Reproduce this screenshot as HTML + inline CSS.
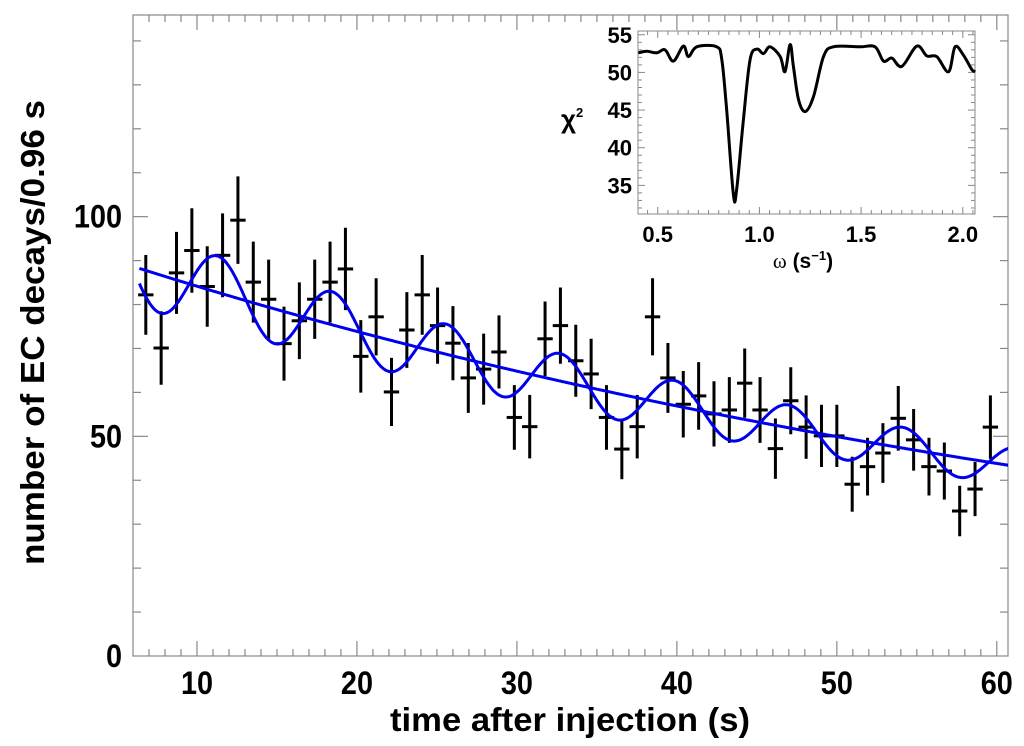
<!DOCTYPE html>
<html><head><meta charset="utf-8"><style>
html,body{margin:0;padding:0;background:#fff}
svg{display:block}
text{font-family:"Liberation Sans",Arial,sans-serif;font-weight:bold}
</style></head><body>
<svg id="chart" width="1024" height="746" viewBox="0 0 1024 746" xmlns="http://www.w3.org/2000/svg">
<g id="main"></g>
<g id="inset"></g>
</svg>
<script>
// ===== main chart data =====
const t0 = 6.8, binWidth = 0.96;
const counts = [82.2,70.1,87.2,92.3,84.1,91.2,99.2,85.1,81.2,71.1,76.3,81.2,85.1,88.1,68.2,77.2,60.1,74.2,82.2,
75.2,71.2,63.3,65.3,69.2,54.3,52.2,72.2,75.2,67.2,64.2,54.3,47.1,52.2,77.2,63.3,57.3,59.2,55.1,
56.0,62.1,56.0,47.2,58.1,52.1,50.1,50.1,39.1,43.1,46.2,54.1,49.2,43.1,42.1,33.0,38.0,52.1];
const fitN0 = [95.9], fitLambda = [0.01305], fitAmp = [0.1], fitOmega = [0.88], fitPeak = [11.3];
const xTicks = [10,20,30,40,50,60];
const yTicks = [0,50,100];
// ===== inset data =====
const omegaVals = [0.405,0.446,0.495,0.536,0.577,0.626,0.651,0.692,0.790,0.815,0.839,0.872,0.888,0.921,0.954,0.987,1.020,1.052,1.102,1.126,1.151,1.167,1.192,1.225,1.266,1.315,1.364,1.495,1.569,1.610,1.651,1.700,1.774,1.823,1.872,1.930,1.962,2.003,2.044,2.061];
const chi2Vals = [52.6,52.8,52.6,53.0,51.5,53.5,52.1,53.4,53.4,51.7,45.0,33.8,34.4,43.7,51.7,53.1,52.5,53.4,52.1,50.1,53.7,50.8,46.4,44.8,46.8,52.1,53.4,53.4,53.4,51.5,51.9,50.8,53.5,52.2,52.1,50.1,53.4,52.3,50.4,50.1];
const insetXTicks = ["0.5","1.0","1.5","2.0"];
const insetYTicks = ["35","40","45","50","55"];

const NS="http://www.w3.org/2000/svg";
function mk(parent, tag, attrs){const e=document.createElementNS(NS,tag);for(const k in attrs)e.setAttribute(k,attrs[k]);parent.appendChild(e);return e;}

// main axes
const PX0=133,PX1=1008,PY0=15,PY1=656;
const XMIN=6.0,XMAX=60.7,YMIN=0,YMAX=145.9;
const sx=v=>PX0+(v-XMIN)/(XMAX-XMIN)*(PX1-PX0);
const sy=v=>PY1-(v-YMIN)/(YMAX-YMIN)*(PY1-PY0);
const main=document.getElementById('main');
const frame=mk(main,'rect',{x:PX0,y:PY0,width:PX1-PX0,height:PY1-PY0,fill:'none',stroke:'#888','stroke-width':1.2});


for(let v=7;v<=60;v++){
  const major=v%10===0, L=major?15:7;
  mk(main,'line',{x1:sx(v),x2:sx(v),y1:PY1,y2:PY1-L,stroke:'#888','stroke-width':1.2});
  mk(main,'line',{x1:sx(v),x2:sx(v),y1:PY0,y2:PY0+L,stroke:'#888','stroke-width':1.2});
}
for(let v=10;v<=140;v+=10){
  const major=v%50===0, L=major?15:8;
  mk(main,'line',{x1:PX0,x2:PX0+L,y1:sy(v),y2:sy(v),stroke:'#888','stroke-width':1.2});
  mk(main,'line',{x1:PX1,x2:PX1-L,y1:sy(v),y2:sy(v),stroke:'#888','stroke-width':1.2});
}
xTicks.forEach(v=>{
  const t=mk(main,'text',{x:sx(v),y:694,'text-anchor':'middle','font-size':32,transform:`translate(${sx(v)*0.1},0) scale(0.9,1)`});
  t.setAttribute('x',sx(v));
  t.textContent=v;
  
  
});
yTicks.forEach(v=>{
  const t=mk(main,'text',{x:122,y:sy(v)+11,'text-anchor':'end','font-size':32,transform:'translate(12.2,0) scale(0.9,1)'});
  t.textContent=v;
  
  
});
const xt=mk(main,'text',{x:390,y:731,'font-size':33,textLength:360,lengthAdjust:'spacingAndGlyphs'});
xt.textContent='time after injection (s)';


const yt=mk(main,'text',{x:-565,y:44,'font-size':33,textLength:465,lengthAdjust:'spacingAndGlyphs',transform:'rotate(-90)'});
yt.textContent='number of EC decays/0.96 s';


counts.forEach((c,i)=>{
  const t=t0+i*binWidth, e=Math.sqrt(c);
  const g=mk(main,'g',{});
  
  
  mk(g,'line',{x1:sx(t),x2:sx(t),y1:sy(c+e),y2:sy(c-e),stroke:'#000','stroke-width':3});
  mk(g,'line',{x1:sx(t-binWidth/2),x2:sx(t+binWidth/2),y1:sy(c),y2:sy(c),stroke:'#000','stroke-width':3});
});
const clip=mk(main,'clipPath',{id:'pc'});
mk(clip,'rect',{x:PX0,y:PY0,width:PX1-PX0,height:PY1-PY0});
let dl='',ds='';
for(let t=6.4;t<=61;t+=0.05){
  const L=fitN0[0]*Math.exp(-fitLambda[0]*t);
  const S=L*(1+fitAmp[0]*Math.cos(fitOmega[0]*(t-fitPeak[0])));
  dl+=(dl?'L':'M')+sx(t).toFixed(1)+','+sy(L).toFixed(1);
  ds+=(ds?'L':'M')+sx(t).toFixed(1)+','+sy(S).toFixed(1);
}
const fl=mk(main,'path',{d:dl,fill:'none',stroke:'#0000ee','stroke-width':3,'clip-path':'url(#pc)'});


const fs=mk(main,'path',{d:ds,fill:'none',stroke:'#0000ee','stroke-width':3,'clip-path':'url(#pc)'});



// inset
const IX0=638,IX1=975,IY0=31,IY1=214;
const IXMIN=0.403,IXMAX=2.06,IYMIN=31.2,IYMAX=55.5;
const ix=v=>IX0+(v-IXMIN)/(IXMAX-IXMIN)*(IX1-IX0);
const iy=v=>IY1-(v-IYMIN)/(IYMAX-IYMIN)*(IY1-IY0);
const ins=document.getElementById('inset');
mk(ins,'rect',{x:IX0,y:IY0,width:IX1-IX0,height:IY1-IY0,fill:'#fff',stroke:'#888','stroke-width':1});
for(let v=0.45;v<2.06;v+=0.05){
  const major=Math.abs(v*2-Math.round(v*2))<1e-6, L=major?7:4;
  mk(ins,'line',{x1:ix(v),x2:ix(v),y1:IY1,y2:IY1-L,stroke:'#888'});
  mk(ins,'line',{x1:ix(v),x2:ix(v),y1:IY0,y2:IY0+L,stroke:'#888'});
}
for(let v=32;v<=55;v+=1){
  const L=v%5===0?7:4;
  mk(ins,'line',{x1:IX0,x2:IX0+L,y1:iy(v),y2:iy(v),stroke:'#888'});
  mk(ins,'line',{x1:IX1,x2:IX1-L,y1:iy(v),y2:iy(v),stroke:'#888'});
}
insetXTicks.forEach(s=>{
  const t=mk(ins,'text',{x:ix(parseFloat(s)),y:242,'text-anchor':'middle','font-size':22});
  t.textContent=s;
  
  
});
insetYTicks.forEach(s=>{
  const t=mk(ins,'text',{x:632,y:iy(parseFloat(s))+8,'text-anchor':'end','font-size':22});
  t.textContent=s;
  
  
});
const ixt=mk(ins,'text',{x:803,y:268,'text-anchor':'middle','font-size':21});
ixt.innerHTML='<tspan font-family="Liberation Serif, serif" font-weight="normal">ω</tspan> (s<tspan font-size="13" dy="-8">−1</tspan><tspan dy="8">)</tspan>';


const iyt=mk(ins,'text',{x:561,y:128,'font-size':26,'font-weight':'normal','font-family':'Liberation Serif, serif'});
iyt.innerHTML='χ<tspan font-size="13" dy="-11">2</tspan>';


// smooth curve (catmull-rom)
const P=omegaVals.map((w,i)=>[ix(w),iy(chi2Vals[i])]);
let d='M'+P[0][0].toFixed(1)+','+P[0][1].toFixed(1);
for(let i=0;i<P.length-1;i++){
  const p0=P[Math.max(i-1,0)],p1=P[i],p2=P[i+1],p3=P[Math.min(i+2,P.length-1)];
  const c1=[p1[0]+(p2[0]-p0[0])/6,p1[1]+(p2[1]-p0[1])/6];
  const c2=[p2[0]-(p3[0]-p1[0])/6,p2[1]-(p3[1]-p1[1])/6];
  d+=`C${c1[0].toFixed(1)},${c1[1].toFixed(1)} ${c2[0].toFixed(1)},${c2[1].toFixed(1)} ${p2[0].toFixed(1)},${p2[1].toFixed(1)}`;
}
const ic=mk(ins,'path',{d:d,fill:'none',stroke:'#000','stroke-width':3,'stroke-linejoin':'round'});


</script>
</body></html>
